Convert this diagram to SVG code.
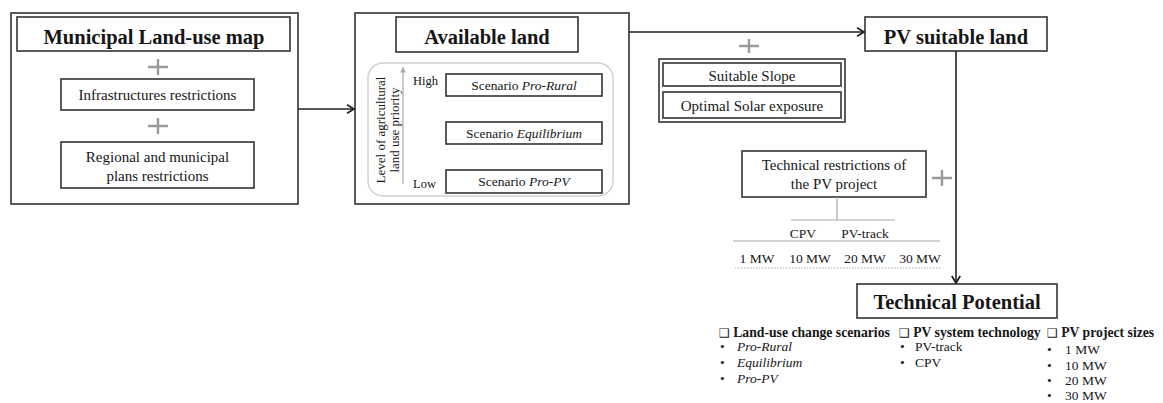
<svg xmlns="http://www.w3.org/2000/svg" width="1163" height="403" viewBox="0 0 1163 403">
<defs>
<style>
text{font-family:"Liberation Serif","Times New Roman",serif;fill:#161616}
.b{fill:#fff;stroke:#333;stroke-width:1.6}
.bt{font-weight:bold;font-size:20.5px;text-anchor:middle}
.t{font-size:15px;text-anchor:middle}
.s{font-size:13.5px}
.sc{font-size:13.5px;text-anchor:middle}
.h{font-size:13.7px;font-weight:bold}
.plus{stroke:#9a9a9a;stroke-width:2.4;fill:none}
.g{stroke:#aaa;stroke-width:1.2;fill:none}
.con{stroke:#222;stroke-width:1.6;fill:none}
.box{font-family:"DejaVu Sans",sans-serif;font-size:12px;font-weight:normal}
</style>
<marker id="arr" viewBox="0 0 10 10" refX="9" refY="5" markerWidth="10" markerHeight="10" markerUnits="userSpaceOnUse" orient="auto"><path d="M2,0.8 L9,5 L2,9.2" fill="none" stroke="#222" stroke-width="1.8"/></marker>
<marker id="garr" viewBox="0 0 10 10" refX="9" refY="5" markerWidth="7" markerHeight="7" markerUnits="userSpaceOnUse" orient="auto"><path d="M1,1 L9,5 L1,9 Z" fill="#aaa"/></marker>
</defs>
<rect width="1163" height="403" fill="#fff"/>

<g id="municipal">
<rect class="b" x="11" y="13" width="287" height="191"/>
<rect class="b" x="17" y="17" width="273" height="34"/>
<text class="bt" x="154" y="44">Municipal Land-use map</text>
<path class="plus" d="M148,67 H168 M158,59 V75"/>
<rect class="b" x="61" y="79" width="193" height="31"/>
<text class="t" x="157.5" y="100">Infrastructures restrictions</text>
<path class="plus" d="M148,126 H168 M158,118 V134"/>
<rect class="b" x="61" y="142" width="193" height="46"/>
<text class="t" x="157.5" y="162">Regional and municipal</text>
<text class="t" x="157.5" y="181">plans restrictions</text>
</g>

<g id="available">
<rect class="b" x="355" y="13" width="274" height="191"/>
<rect class="b" x="396" y="17" width="182" height="35"/>
<text class="bt" x="487" y="44">Available land</text>
<rect x="368" y="63" width="245" height="133" rx="15" fill="none" stroke="#cfcfcf" stroke-width="1.4"/>
<text text-anchor="middle" transform="translate(385,130) rotate(-90)" style="font-size:13px">Level of agricultural</text>
<text text-anchor="middle" transform="translate(399,130) rotate(-90)" style="font-size:13px">land use priority</text>
<path class="g" d="M403,184 V67" marker-end="url(#garr)"/>
<text x="413" y="85" style="font-size:12.5px">High</text>
<text x="413" y="188" style="font-size:12.5px">Low</text>
<rect class="b" x="446" y="74" width="156" height="22"/>
<text class="sc" x="524" y="90">Scenario <tspan font-style="italic">Pro-Rural</tspan></text>
<rect class="b" x="446" y="122" width="156" height="22"/>
<text class="sc" x="524" y="138">Scenario <tspan font-style="italic">Equilibrium</tspan></text>
<rect class="b" x="446" y="170" width="156" height="23"/>
<text class="sc" x="524" y="186">Scenario <tspan font-style="italic">Pro-PV</tspan></text>
</g>

<g id="slope">
<path class="plus" d="M739,46 H759 M749,39 V53"/>
<rect class="b" x="659" y="59" width="186" height="63"/>
<rect class="b" x="663" y="63" width="178" height="23"/>
<text class="t" x="752" y="81">Suitable Slope</text>
<rect class="b" x="663" y="92" width="178" height="26"/>
<text class="t" x="752" y="111">Optimal Solar exposure</text>
</g>

<g id="pvsuitable">
<rect class="b" x="865" y="17" width="182" height="34"/>
<text class="bt" x="956" y="44">PV suitable land</text>
</g>

<g id="techrestrictions">
<rect class="b" x="742" y="151" width="184" height="46"/>
<text class="t" x="834" y="170">Technical restrictions of</text>
<text class="t" x="834" y="189">the PV project</text>
<path class="plus" d="M932,178 H952 M942,170 V186"/>
<path class="g" d="M837,197 V220 M791,220 H895"/>
<text class="sc" x="803" y="238">CPV</text>
<text class="sc" x="865" y="238">PV-track</text>
<path class="g" d="M733,241 H940"/>
<text class="sc" x="757" y="263">1 MW</text>
<text class="sc" x="810" y="263">10 MW</text>
<text class="sc" x="865" y="263">20 MW</text>
<text class="sc" x="920" y="263">30 MW</text>
<path d="M735,268 H942" stroke="#aaa" stroke-width="1" stroke-dasharray="1.5,1.5" fill="none"/>
</g>

<g id="technicalpotential">
<rect class="b" x="857" y="284" width="200" height="34"/>
<text class="bt" x="957" y="309">Technical Potential</text>
</g>

<g id="lists">
<text x="719" y="337" class="h"><tspan class="box">❑</tspan> Land-use change scenarios</text>
<text x="720" y="351" class="s">•</text><text x="737" y="351" class="s" font-style="italic">Pro-Rural</text>
<text x="720" y="367" class="s">•</text><text x="737" y="367" class="s" font-style="italic">Equilibrium</text>
<text x="720" y="383" class="s">•</text><text x="737" y="383" class="s" font-style="italic">Pro-PV</text>
<text x="899" y="337" class="h"><tspan class="box">❑</tspan> PV system technology</text>
<text x="900" y="351" class="s">•</text><text x="915" y="351" class="s">PV-track</text>
<text x="900" y="367" class="s">•</text><text x="915" y="367" class="s">CPV</text>
<text x="1047" y="337" class="h"><tspan class="box">❑</tspan> PV project sizes</text>
<text x="1047" y="354" class="s">•</text><text x="1065" y="354" class="s">1 MW</text>
<text x="1047" y="370" class="s">•</text><text x="1065" y="370" class="s">10 MW</text>
<text x="1047" y="385" class="s">•</text><text x="1065" y="385" class="s">20 MW</text>
<text x="1047" y="400" class="s">•</text><text x="1065" y="400" class="s">30 MW</text>
</g>

<g id="connectors">
<path class="con" d="M298,109 H354" marker-end="url(#arr)"/>
<path class="con" d="M629,32 H864" marker-end="url(#arr)"/>
<path class="con" d="M956,51 V283" marker-end="url(#arr)"/>
</g>
</svg>
